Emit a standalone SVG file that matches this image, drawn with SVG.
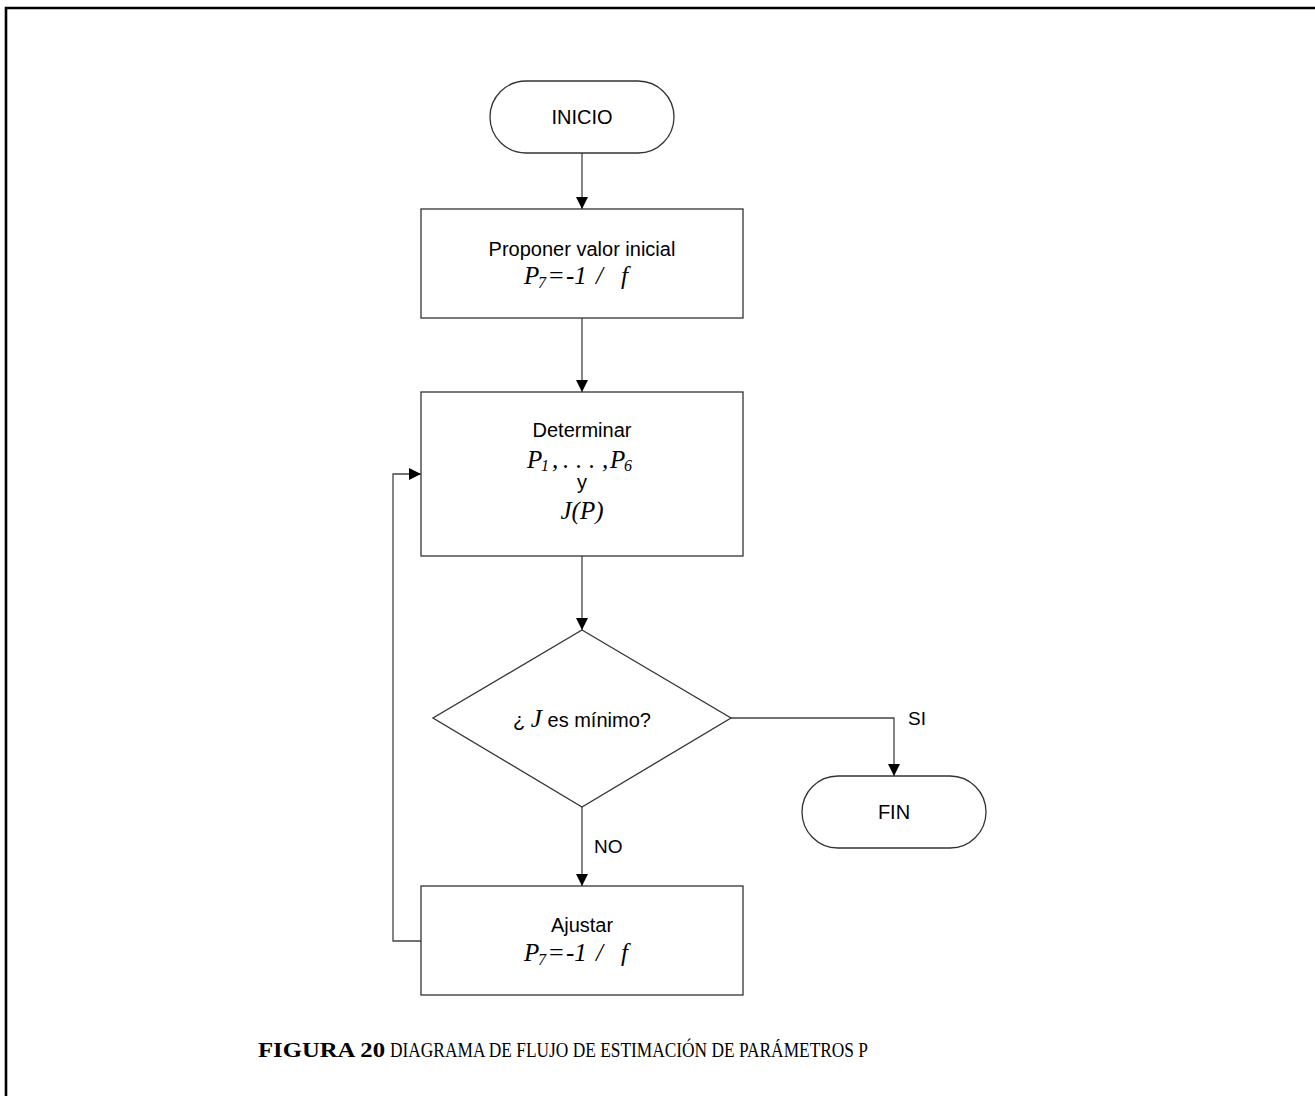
<svg xmlns="http://www.w3.org/2000/svg" width="1315" height="1096" viewBox="0 0 1315 1096">
  <defs>
    <marker id="arrow" viewBox="0 0 12 12" refX="12" refY="6" markerWidth="12" markerHeight="12" markerUnits="userSpaceOnUse" orient="auto">
      <path d="M0,0 L12,6 L0,12 Z" fill="#000"/>
    </marker>
    <style>
      .shape { fill: #fff; stroke: #333; stroke-width: 1.3; }
      .edge { fill: none; stroke: #444; stroke-width: 1.3; }
      .lbl { font-family: "Liberation Sans", Arial, sans-serif; font-size: 20px; fill: #000; }
      .edge-lbl { font-family: "Liberation Sans", Arial, sans-serif; font-size: 19px; fill: #000; }
      .math { font-family: "Liberation Serif", "Times New Roman", serif; font-style: italic; font-size: 25px; fill: #000; }
      .sub { font-size: 16px; }
      .eq { font-size: 26px; font-style: normal; }
      .cap { font-family: "Liberation Serif", "DejaVu Serif", serif; font-size: 21px; fill: #000; }
    </style>
  </defs>

  <rect width="1315" height="1096" fill="#fff"/>
  <!-- page frame -->
  <path d="M6,1096 L6,8 L1315,8" fill="none" stroke="#000" stroke-width="2.6"/>

  <g id="connectors">
    <path class="edge" d="M582,153 L582,209" marker-end="url(#arrow)"/>
    <path class="edge" d="M582,318 L582,392" marker-end="url(#arrow)"/>
    <path class="edge" d="M582,556 L582,630" marker-end="url(#arrow)"/>
    <path class="edge" d="M731,718 L894,718 L894,776" marker-end="url(#arrow)"/>
    <path class="edge" d="M582,807 L582,886" marker-end="url(#arrow)"/>
    <path class="edge" d="M421,941 L393,941 L393,474 L421,474" marker-end="url(#arrow)"/>
    <text class="edge-lbl" x="908" y="725">SI</text>
    <text class="edge-lbl" x="594" y="853">NO</text>
  </g>

  <g id="inicio">
    <rect class="shape" x="490" y="81" width="184" height="72" rx="36" ry="36"/>
    <text class="lbl" x="582" y="124" text-anchor="middle">INICIO</text>
  </g>

  <g id="proponer">
    <rect class="shape" x="421" y="209" width="322" height="109"/>
    <text class="lbl" x="582" y="256" text-anchor="middle">Proponer valor inicial</text>
    <text class="math" y="284"><tspan x="524">P</tspan><tspan class="sub" x="538" dy="4">7</tspan><tspan class="eq" x="549" dy="-4">=</tspan><tspan x="566">-1</tspan><tspan x="596">/</tspan><tspan x="621">f</tspan></text>
  </g>

  <g id="determinar">
    <rect class="shape" x="421" y="392" width="322" height="164"/>
    <text class="lbl" x="582" y="437" text-anchor="middle">Determinar</text>
    <text class="math" y="468"><tspan x="527">P</tspan><tspan class="sub" x="541" dy="3">1</tspan><tspan x="552" dy="-3">,</tspan><tspan x="563">.</tspan><tspan x="576">.</tspan><tspan x="589">.</tspan><tspan x="602">,</tspan><tspan x="610">P</tspan><tspan class="sub" x="624" dy="3">6</tspan></text>
    <text class="lbl" x="582" y="489" text-anchor="middle">y</text>
    <text class="math" x="582" y="519" text-anchor="middle">J(P)</text>
  </g>

  <g id="decision">
    <polygon class="shape" points="582,630 731,718 582,807 433,718"/>
    <text class="lbl" x="582" y="727" text-anchor="middle">¿ <tspan class="math" font-size="26">J</tspan> es mínimo?</text>
  </g>

  <g id="fin">
    <rect class="shape" x="802" y="776" width="184" height="72" rx="36" ry="36"/>
    <text class="lbl" x="894" y="819" text-anchor="middle">FIN</text>
  </g>

  <g id="ajustar">
    <rect class="shape" x="421" y="886" width="322" height="109"/>
    <text class="lbl" x="582" y="932" text-anchor="middle">Ajustar</text>
    <text class="math" y="961"><tspan x="524">P</tspan><tspan class="sub" x="538" dy="4">7</tspan><tspan class="eq" x="549" dy="-4">=</tspan><tspan x="566">-1</tspan><tspan x="596">/</tspan><tspan x="621">f</tspan></text>
  </g>

  <g id="caption">
    <text class="cap" x="258" y="1057" font-weight="bold" textLength="127" lengthAdjust="spacingAndGlyphs">FIGURA 20</text>
    <text class="cap" x="390" y="1057" textLength="478" lengthAdjust="spacingAndGlyphs">DIAGRAMA DE FLUJO DE ESTIMACIÓN DE PARÁMETROS P</text>
  </g>
</svg>
